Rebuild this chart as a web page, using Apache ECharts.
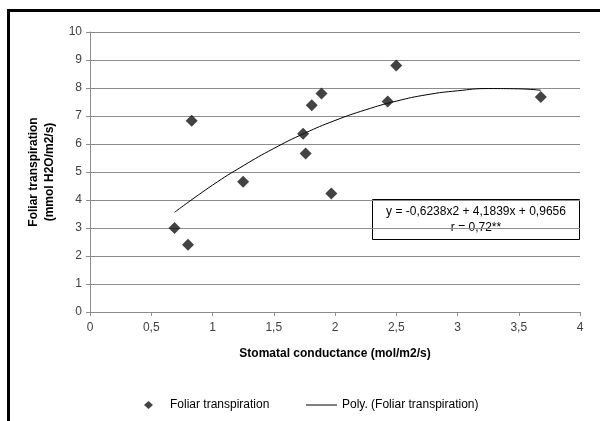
<!DOCTYPE html>
<html>
<head>
<meta charset="utf-8">
<script src="https://cdn.jsdelivr.net/npm/echarts@6/dist/echarts.min.js"></script>
<style>
  html, body { margin: 0; padding: 0; background: #fff; overflow: hidden; }
  #main { width: 600px; height: 421px; }
</style>
</head>
<body>
<div id="main"></div>
<script>
// measured points (stomatal conductance, foliar transpiration)
const conductance = [0.69, 0.80, 0.83, 1.25, 1.74, 1.76, 1.81, 1.89, 1.97, 2.43, 2.50, 3.68]
const transpiration = [3.0, 2.4, 6.83, 4.65, 6.37, 5.66, 7.38, 7.8, 4.23, 7.52, 8.8, 7.68]

// polynomial trend line
const trendX = [0.69, 1.0, 1.25, 1.5, 1.75, 2.0, 2.25, 2.5, 2.75, 3.0, 3.25, 3.5, 3.68]
const trendY = [3.56, 4.53, 5.22, 5.84, 6.38, 6.84, 7.22, 7.53, 7.76, 7.9, 7.98, 7.97, 7.92]

const xTicks = ['0', '0,5', '1', '1,5', '2', '2,5', '3', '3,5', '4']
const equationText = 'y = -0,6238x2 + 4,1839x + 0,9656'
const rText = 'r = 0,72**'

const chart = echarts.init(document.getElementById('main'))

const labelFont = { fontFamily: 'Liberation Sans, Arial, sans-serif', fontSize: 12, color: '#404040' }
const nameFont = { fontFamily: 'Liberation Sans, Arial, sans-serif', fontSize: 12, fontWeight: 'bold', color: '#000' }

const option = {
  animation: false,
  backgroundColor: '#fff',
  grid: { left: 90, right: 20, top: 32, bottom: 109 },
  xAxis: {
    type: 'value',
    min: 0,
    max: 4,
    interval: 0.5,
    name: 'Stomatal conductance (mol/m2/s)',
    nameLocation: 'middle',
    nameGap: 36,
    nameTextStyle: nameFont,
    axisLine: { lineStyle: { color: '#8c8c8c' } },
    axisTick: { show: true, inside: false, length: 4, lineStyle: { color: '#8c8c8c' } },
    axisLabel: Object.assign({ margin: 10, formatter: v => xTicks[Math.round(v * 2)] }, labelFont),
    splitLine: { show: false }
  },
  yAxis: {
    type: 'value',
    min: 0,
    max: 10,
    interval: 1,
    name: 'Foliar transpiration\n(mmol H2O/m2/s)',
    nameLocation: 'middle',
    nameGap: 32,
    nameMoveOverlap: false,
    nameTextStyle: Object.assign({ lineHeight: 16 }, nameFont),
    axisLine: { show: true, lineStyle: { color: '#8c8c8c' } },
    axisTick: { show: true, length: 4, lineStyle: { color: '#8c8c8c' } },
    axisLabel: Object.assign({ margin: 8 }, labelFont),
    splitLine: { show: true, lineStyle: { color: '#8c8c8c', width: 1 } }
  },
  legend: [
    {
      data: [{ name: 'Foliar transpiration', icon: 'diamond' }],
      left: 139,
      top: 394,
      itemWidth: 9,
      itemHeight: 8,
      textStyle: Object.assign({ padding: [0, 0, 0, 12] }, labelFont, { color: '#000' })
    },
    {
      data: [{ name: 'Poly. (Foliar transpiration)', icon: 'rect' }],
      left: 301,
      top: 394,
      itemWidth: 31,
      itemHeight: 1,
      textStyle: Object.assign({}, labelFont, { color: '#000' })
    }
  ],
  series: [
    {
      name: 'Poly. (Foliar transpiration)',
      type: 'line',
      data: trendX.map((x, i) => [x, trendY[i]]),
      smooth: true,
      symbol: 'none',
      showSymbol: false,
      lineStyle: { color: '#000', width: 1 },
      itemStyle: { color: '#000' },
      z: 2
    },
    {
      name: 'Foliar transpiration',
      type: 'scatter',
      data: conductance.map((x, i) => [x, transpiration[i]]),
      symbol: 'diamond',
      symbolSize: 12,
      itemStyle: { color: '#141414' },
      z: 3
    }
  ],
  graphic: [
    // outer frame, only top and left edges are inside the picture
    { type: 'line', shape: { x1: 8.5, y1: 10.5, x2: 600, y2: 10.5 }, style: { stroke: '#000', lineWidth: 3 }, z: 10 },
    { type: 'line', shape: { x1: 8.5, y1: 9, x2: 8.5, y2: 421 }, style: { stroke: '#000', lineWidth: 3 }, z: 10 },
    // equation box
    {
      type: 'group',
      left: 372,
      top: 199,
      z: 10,
      children: [
        { type: 'rect', shape: { x: 0.5, y: 0.5, width: 207, height: 40 }, style: { fill: '#fff', stroke: '#000', lineWidth: 1 } },
        { type: 'text', x: 104, y: 13, style: { text: equationText, align: 'center', verticalAlign: 'middle', font: '12px "Liberation Sans", Arial, sans-serif', fill: '#000' } },
        { type: 'text', x: 104, y: 29, style: { text: rText, align: 'center', verticalAlign: 'middle', font: '12px "Liberation Sans", Arial, sans-serif', fill: '#000' } }
      ]
    }
  ]
}

chart.setOption(option)
</script>
</body>
</html>
